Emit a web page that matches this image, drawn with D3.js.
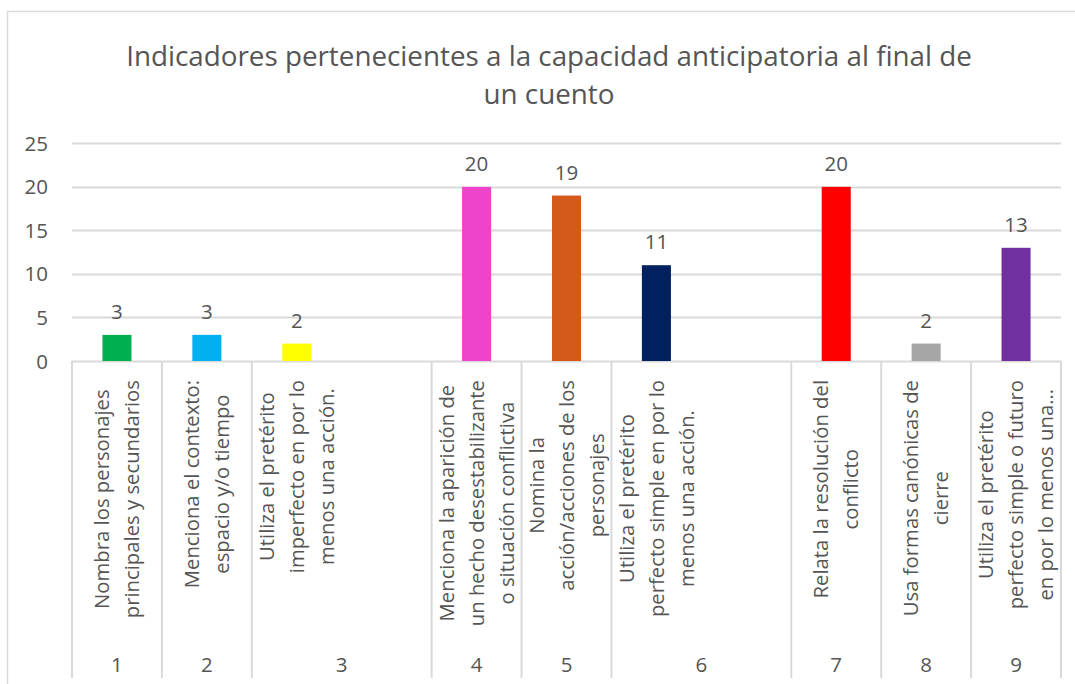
<!DOCTYPE html>
<html>
<head>
<meta charset="utf-8">
<script src="https://cdn.jsdelivr.net/npm/d3@7"></script>
<style>
  body { margin: 0; background: #fff; }
  text { font-family: "Open Sans", "Noto Sans", sans-serif; fill: #555555; }
</style>
</head>
<body>
<div id="chart"></div>
<script>
// chart values
var groups = ["1", "2", "3", "3", "4", "5", "6", "6", "7", "8", "9"];
var indicators = [
    "Nombra los personajes\nprincipales y secundarios",
    "Menciona el contexto:\nespacio y/o tiempo",
    "Utiliza el pretérito\nimperfecto en por lo\nmenos una acción.",
    "",
    "Menciona la aparición de\nun hecho desestabilizante\no situación conflictiva",
    "Nomina la\nacción/acciones de los\npersonajes",
    "Utiliza el pretérito\nperfecto simple en por lo\nmenos una acción.",
    "",
    "Relata la resolución del\nconflicto",
    "Usa formas canónicas de\ncierre",
    "Utiliza el pretérito\nperfecto simple o futuro\nen por lo menos una..."
];
var values = [3, 3, 2, null, 20, 19, 11, null, 20, 2, 13];
var colors = ["#00B050", "#00B0F0", "#FFFF00", null, "#EE44CC", "#D35A1A", "#002060", null, "#FF0000", "#A5A5A5", "#7030A0"];
var yTicks = [0, 5, 10, 15, 20, 25];
var title = ["Indicadores pertenecientes a la capacidad anticipatoria al final de", "un cuento"];

var svgWidth = 1075;
var svgHeight = 684;

var plot = { left: 72, right: 1061, top: 143.3, bottom: 361 };

var svg = d3.select("#chart")
    .append("svg")
    .attr("width", svgWidth)
    .attr("height", svgHeight);

// chart border
svg.append("rect")
    .attr("x", 7.5)
    .attr("y", 11.5)
    .attr("width", 1090)
    .attr("height", 700)
    .attr("fill", "none")
    .attr("stroke", "#D9D9D9")
    .attr("stroke-width", 1.5);

// title
svg.append("text")
    .attr("text-anchor", "middle")
    .attr("font-size", "27.8px")
    .selectAll("tspan")
    .data(title)
    .enter()
    .append("tspan")
    .attr("x", 549)
    .attr("y", (d, i) => 66 + i * 38)
    .text(d => d);

var slots = d3.range(values.length);

var x = d3.scaleBand()
    .domain(slots)
    .range([plot.left, plot.right])
    .paddingInner(0.677)
    .paddingOuter(0.677 / 2);

var y = d3.scaleLinear()
    .domain([0, 25])
    .range([plot.bottom, plot.top]);

// gridlines
svg.append("g")
    .selectAll("line")
    .data(yTicks)
    .enter()
    .append("line")
    .attr("x1", plot.left)
    .attr("x2", plot.right)
    .attr("y1", d => Math.round(y(d)) + 0.5)
    .attr("y2", d => Math.round(y(d)) + 0.5)
    .attr("stroke", "#D9D9D9")
    .attr("stroke-width", 2);

// y tick labels
svg.append("g")
    .selectAll("text")
    .data(yTicks)
    .enter()
    .append("text")
    .attr("x", 48)
    .attr("y", d => y(d) + 7.5)
    .attr("text-anchor", "end")
    .attr("font-size", "20.5px")
    .text(d => d);

// bars
var barData = slots.filter(i => values[i] !== null);

svg.append("g")
    .selectAll("rect")
    .data(barData)
    .enter()
    .append("rect")
    .attr("x", i => x(i))
    .attr("y", i => y(values[i]))
    .attr("width", x.bandwidth())
    .attr("height", i => y(0) - y(values[i]))
    .attr("fill", i => colors[i]);

// data labels
svg.append("g")
    .selectAll("text")
    .data(barData)
    .enter()
    .append("text")
    .attr("x", i => x(i) + x.bandwidth() / 2)
    .attr("y", i => y(values[i]) - 16)
    .attr("text-anchor", "middle")
    .attr("font-size", "20.5px")
    .text(i => values[i]);

// group boundaries of the two-level category axis
var step = x.step();
var bounds = [0];
groups.forEach(function (g, i) {
    if (i === groups.length - 1 || groups[i + 1] !== g) bounds.push(i + 1);
});

var axisBottom = 678;
svg.append("g")
    .selectAll("line")
    .data(bounds)
    .enter()
    .append("line")
    .attr("x1", b => plot.left + b * step)
    .attr("x2", b => plot.left + b * step)
    .attr("y1", plot.bottom)
    .attr("y2", axisBottom)
    .attr("stroke", "#D9D9D9")
    .attr("stroke-width", 2);

// outer labels
var outer = [];
for (var k = 0; k < bounds.length - 1; k++) {
    outer.push({ name: groups[bounds[k]], x0: bounds[k], x1: bounds[k + 1] });
}
svg.append("g")
    .selectAll("text")
    .data(outer)
    .enter()
    .append("text")
    .attr("x", d => plot.left + (d.x0 + d.x1) / 2 * step)
    .attr("y", 672)
    .attr("text-anchor", "middle")
    .attr("font-size", "20.5px")
    .text(d => d.name);

// inner (rotated) labels
var lineHeight = 30;
var labelTop = 380;
var inner = svg.append("g")
    .selectAll("text")
    .data(slots.filter(i => indicators[i] !== ""))
    .enter()
    .append("text")
    .attr("text-anchor", "middle")
    .attr("font-size", "20.3px");

inner.each(function (i) {
    var lines = indicators[i].split("\n");
    var t = d3.select(this);
    lines.forEach(function (ln, j) {
        t.append("tspan")
            .attr("x", 0)
            .attr("y", (j - (lines.length - 1) / 2) * lineHeight)
            .attr("dy", "0.35em")
            .text(ln);
    });
    var maxW = d3.max(t.selectAll("tspan").nodes(), n => n.getComputedTextLength());
    var cx = x(i) + x.bandwidth() / 2;
    t.attr("transform", `translate(${cx}, ${labelTop + maxW / 2}) rotate(-90)`);
});
</script>
</body>
</html>
